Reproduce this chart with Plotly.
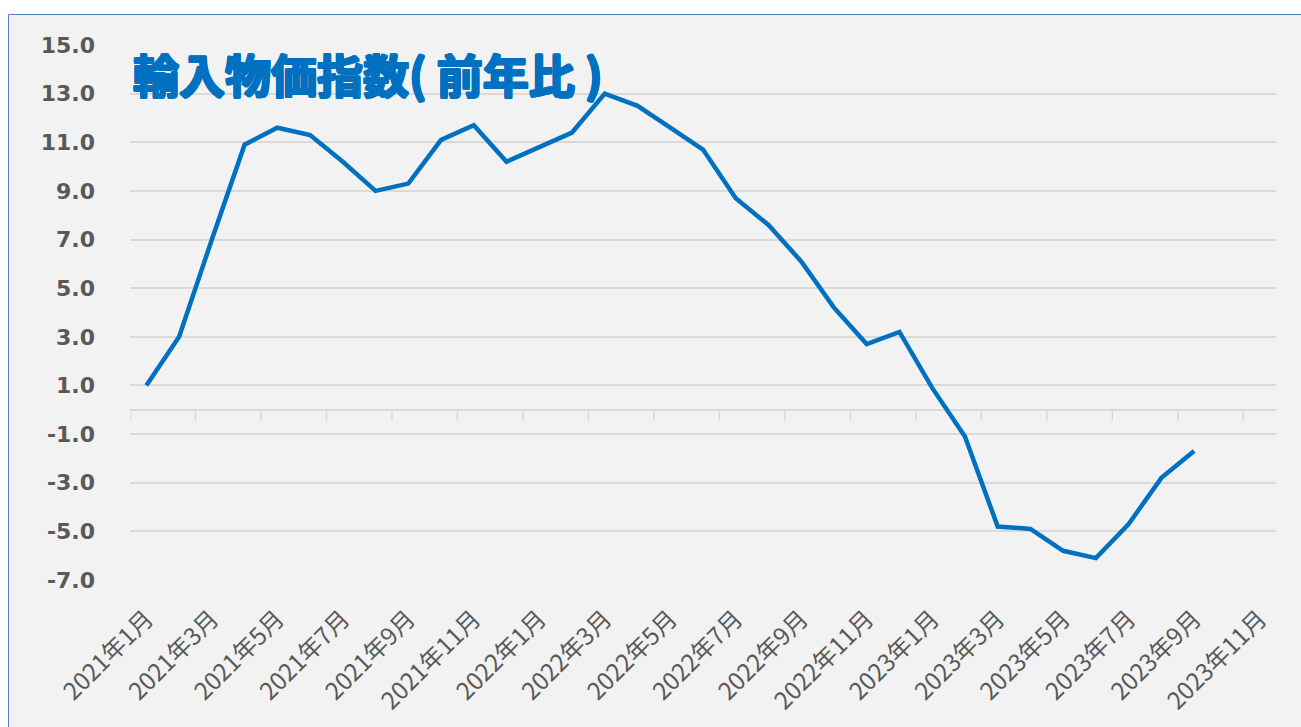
import plotly.graph_objects as go

# ---- data ----
months = [f"{y}年{m}月" for y in (2021, 2022, 2023) for m in range(1, 13)][:35]
values = [1.0, 3.0, 7.0, 10.9, 11.6, 11.3, 10.2, 9.0, 9.3, 11.1, 11.7, 10.2,
          10.8, 11.4, 13.0, 12.5, 11.6, 10.7, 8.7, 7.6, 6.1, 4.2, 2.7, 3.2,
          0.9, -1.1, -4.8, -4.9, -5.8, -6.1, -4.7, -2.8, -1.7]
y_ticks = [-7, -5, -3, -1, 1, 3, 5, 7, 9, 11, 13, 15]
y_ticktext = [f"{v:.1f}" for v in y_ticks]
title_text = "輸入物価指数( 前年比 )"

W, H = 1301, 727
L, R, T, B = 130, 25, 45, 147
pw, ph = W - L - R, H - T - B

def px_x(p):
    return (p - L) / pw

def px_y(p):
    return (H - B - p) / ph

fig = go.Figure()
fig.add_trace(go.Scatter(
    x=months[:len(values)], y=values, mode="lines",
    line=dict(color="#0070C0", width=4.5), hoverinfo="skip", showlegend=False))

shapes = [dict(type="rect", xref="paper", yref="paper",
               x0=px_x(8.5), x1=px_x(1310), y0=px_y(735), y1=px_y(14.5),
               fillcolor="#f2f2f2", line=dict(color="#4f81bd", width=1),
               layer="below")]
# category-boundary tick marks on the zero line (every 2 categories)
for k in range(0, len(months), 2):
    shapes.append(dict(type="line", xref="x", yref="y", ysizemode="pixel",
                       yanchor=0, y0=0, y1=-11, x0=k - 0.5, x1=k - 0.5,
                       line=dict(color="#d9d9d9", width=1.5), layer="below"))

thick = ", ".join(f"{dx}px {dy}px 0 #0070C0" for dx, dy in
                  [(1, 0), (-1, 0), (0, 1), (0, -1), (1, 1), (-1, -1), (1, -1), (-1, 1)])

fig.update_layout(
    width=W, height=H,
    margin=dict(l=L, r=R, t=T, b=B, autoexpand=False),
    paper_bgcolor="white", plot_bgcolor="rgba(0,0,0,0)",
    shapes=shapes,
    xaxis=dict(type="category", categoryorder="array", categoryarray=months,
               range=[-0.5, len(months) - 0.5], showgrid=False, zeroline=False,
               showline=False, ticks="", tickmode="array", automargin=False,
               tickvals=months[::2], ticktext=months[::2], tickangle=-45,
               ticklabelstandoff=19,
               tickfont=dict(family="Noto Sans CJK JP", size=24, color="#595959")),
    yaxis=dict(range=[-7, 15], tickmode="array", tickvals=y_ticks,
               ticktext=y_ticktext, showgrid=True, gridcolor="#d9d9d9",
               gridwidth=1.5, zeroline=True, zerolinecolor="#d9d9d9",
               zerolinewidth=1.5, showline=False, ticks="", automargin=False,
               ticklabelstandoff=34,
               tickfont=dict(family="DejaVu Sans", size=22, color="#595959",
                             weight="bold")),
    annotations=[dict(text=title_text, xref="paper", yref="paper",
                      x=px_x(131), y=px_y(73), xanchor="left", yanchor="middle",
                      showarrow=False,
                      font=dict(family="Noto Sans CJK JP", size=46,
                                color="#0070C0", weight="bold", shadow=thick))],
)

fig.write_html("out.html", config={"displayModeBar": False},
               post_script="document.body.style.margin='0';")
